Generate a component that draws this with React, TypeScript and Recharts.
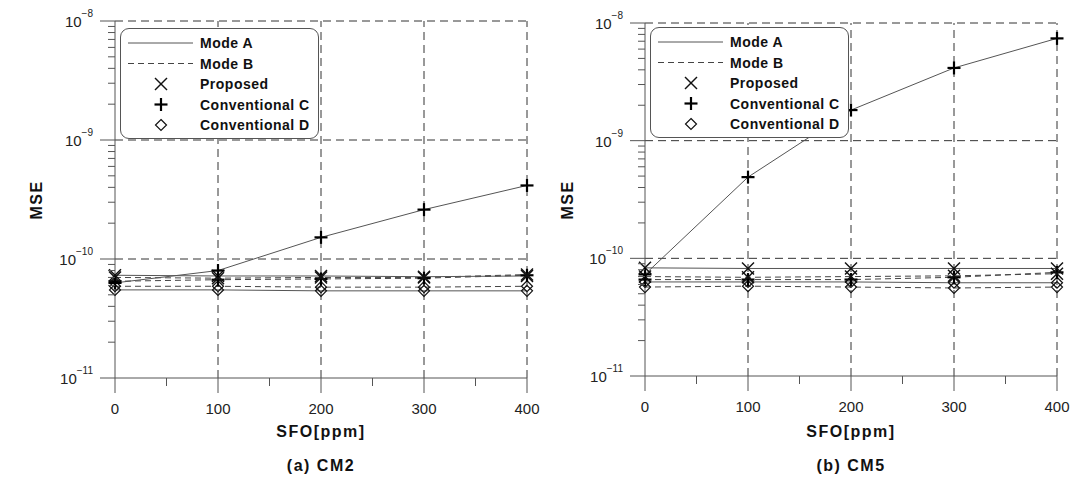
import React from 'react';
import { LineChart, Line, XAxis, YAxis, ReferenceLine } from 'recharts';

const FONT = '"Liberation Sans", Arial, sans-serif';
const AXIS = '#555';
const GRID = '#333';

// SFO offsets [ppm]
const sfo = [0, 100, 200, 300, 400];
const xTicks = [0, 50, 100, 150, 200, 250, 300, 350, 400];
const xGrid = [100, 200, 300, 400];
const yGrid = [1e-10, 1e-9, 1e-8];
const yTicks = [
  1e-11, 2e-11, 3e-11, 4e-11, 5e-11, 6e-11, 7e-11, 8e-11, 9e-11,
  1e-10, 2e-10, 3e-10, 4e-10, 5e-10, 6e-10, 7e-10, 8e-10, 9e-10,
  1e-9, 2e-9, 3e-9, 4e-9, 5e-9, 6e-9, 7e-9, 8e-9, 9e-9, 1e-8,
];

// (a) CM2
const cm2ProposedA = [7.3e-11, 7.2e-11, 7.2e-11, 7.1e-11, 7.2e-11];
const cm2ProposedB = [7.0e-11, 6.9e-11, 7.0e-11, 7.0e-11, 7.4e-11];
const cm2ConvCA = [6.3e-11, 8.0e-11, 1.52e-10, 2.6e-10, 4.15e-10];
const cm2ConvCB = [6.5e-11, 6.7e-11, 6.8e-11, 6.9e-11, 7.3e-11];
const cm2ConvDA = [5.5e-11, 5.5e-11, 5.4e-11, 5.4e-11, 5.4e-11];
const cm2ConvDB = [5.9e-11, 5.9e-11, 5.8e-11, 5.8e-11, 5.9e-11];

// (b) CM5
const cm5ProposedA = [8.3e-11, 8.2e-11, 8.2e-11, 8.2e-11, 8.2e-11];
const cm5ProposedB = [7.0e-11, 6.9e-11, 7.0e-11, 7.1e-11, 7.4e-11];
const cm5ConvCA = [7.3e-11, 4.9e-10, 1.82e-9, 4.15e-9, 7.4e-9];
const cm5ConvCB = [6.6e-11, 6.6e-11, 6.6e-11, 6.9e-11, 7.6e-11];
const cm5ConvDA = [6.3e-11, 6.3e-11, 6.3e-11, 6.2e-11, 6.2e-11];
const cm5ConvDB = [5.7e-11, 5.8e-11, 5.7e-11, 5.6e-11, 5.7e-11];

const legendLabels = ['Mode A', 'Mode B', 'Proposed', 'Conventional C', 'Conventional D'];

type MarkerKind = 'x' | 'plus' | 'diamond';

const series: { key: string; dashed: boolean; marker: MarkerKind }[] = [
  { key: 'convDA', dashed: false, marker: 'diamond' },
  { key: 'convDB', dashed: true, marker: 'diamond' },
  { key: 'convCB', dashed: true, marker: 'plus' },
  { key: 'proposedB', dashed: true, marker: 'x' },
  { key: 'proposedA', dashed: false, marker: 'x' },
  { key: 'convCA', dashed: false, marker: 'plus' },
];

const buildRows = (pA: number[], pB: number[], cA: number[], cB: number[], dA: number[], dB: number[]) =>
  sfo.map((x, i) => ({
    sfo: x,
    proposedA: pA[i],
    proposedB: pB[i],
    convCA: cA[i],
    convCB: cB[i],
    convDA: dA[i],
    convDB: dB[i],
  }));

const cm2Rows = buildRows(cm2ProposedA, cm2ProposedB, cm2ConvCA, cm2ConvCB, cm2ConvDA, cm2ConvDB);
const cm5Rows = buildRows(cm5ProposedA, cm5ProposedB, cm5ConvCA, cm5ConvCB, cm5ConvDA, cm5ConvDB);

function Marker({ kind, cx, cy }: { kind: MarkerKind; cx: number; cy: number }) {
  if (kind === 'x') {
    const h = 6;
    return (
      <g stroke="#111" strokeWidth={1.4}>
        <line x1={cx - h} y1={cy - h} x2={cx + h} y2={cy + h} />
        <line x1={cx - h} y1={cy + h} x2={cx + h} y2={cy - h} />
      </g>
    );
  }
  if (kind === 'plus') {
    const h = 6.5;
    return (
      <g stroke="#000" strokeWidth={2.2}>
        <line x1={cx - h} y1={cy} x2={cx + h} y2={cy} />
        <line x1={cx} y1={cy - h} x2={cx} y2={cy + h} />
      </g>
    );
  }
  const h = 5.5;
  return (
    <polygon
      points={`${cx},${cy - h} ${cx + h},${cy} ${cx},${cy + h} ${cx - h},${cy}`}
      fill="none"
      stroke="#111"
      strokeWidth={1.2}
    />
  );
}

const X_MARGIN = 30;
const Y_MARGIN = 22;

const XTick = (props: any) => {
  const { x, y, payload } = props;
  const v = payload.value as number;
  const major = v % 100 === 0;
  const y0 = y - X_MARGIN;
  return (
    <g>
      <line x1={x} x2={x} y1={y0} y2={y0 + (major ? 15 : 8)} stroke={AXIS} strokeWidth={1} />
      {major && (
        <text x={x} y={y} textAnchor="middle" dominantBaseline="central" fontFamily={FONT} fontSize={15} fill="#222">
          {v}
        </text>
      )}
    </g>
  );
};

const YTick = (props: any) => {
  const { x, y, payload } = props;
  const v = payload.value as number;
  const exp = Math.log10(v);
  const major = Math.abs(exp - Math.round(exp)) < 1e-6;
  const x0 = x + Y_MARGIN;
  return (
    <g>
      <line x1={x0} x2={x0 - (major ? 15 : 7)} y1={y} y2={y} stroke={AXIS} strokeWidth={1} />
      {major && (
        <text x={x} y={y} textAnchor="end" dominantBaseline="central" fontFamily={FONT} fontSize={15} fill="#222">
          <tspan>10</tspan>
          <tspan dy={-8} fontSize={10}>{`\u2212${-Math.round(exp)}`}</tspan>
        </text>
      )}
    </g>
  );
};

const CHART_H = 420;
const X_AXIS_H = 30;

function Panel({ rows, top, bottom }: { rows: any[]; top: number; bottom: number }) {
  return (
    <LineChart
      width={545}
      height={CHART_H}
      data={rows}
      margin={{ top, right: 18, bottom: CHART_H - X_AXIS_H - bottom, left: 0 }}
    >
      <XAxis
        dataKey="sfo"
        type="number"
        domain={[0, 400]}
        ticks={xTicks}
        interval={0}
        tickSize={0}
        tickMargin={X_MARGIN}
        tickLine={false}
        tick={<XTick />}
        axisLine={{ stroke: AXIS }}
        height={X_AXIS_H}
      />
      <YAxis
        type="number"
        scale="log"
        domain={[1e-11, 1e-8]}
        allowDataOverflow
        ticks={yTicks}
        interval={0}
        tickSize={0}
        tickMargin={Y_MARGIN}
        tickLine={false}
        tick={<YTick />}
        axisLine={{ stroke: AXIS }}
        width={115}
      />
      {yGrid.map((v) => (
        <ReferenceLine key={`y${v}`} y={v} stroke={GRID} strokeDasharray="8 5" />
      ))}
      {xGrid.map((v) => (
        <ReferenceLine key={`x${v}`} x={v} stroke={GRID} strokeDasharray="8 5" />
      ))}
      {series.map((s) => (
        <Line
          key={s.key}
          dataKey={s.key}
          type="linear"
          stroke={s.dashed ? '#444' : '#555'}
          strokeWidth={1}
          strokeDasharray={s.dashed ? '6 4' : undefined}
          isAnimationActive={false}
          dot={(p: any) => <Marker key={`${s.key}-${p.index}`} kind={s.marker} cx={p.cx} cy={p.cy} />}
          activeDot={false}
        />
      ))}
    </LineChart>
  );
}

function LegendBox({ left, top }: { left: number; top: number }) {
  const rowH = 20.5;
  return (
    <div
      style={{
        position: 'absolute',
        left,
        top,
        width: 197,
        height: 109,
        border: '1px solid #555',
        borderRadius: 9,
        background: '#fff',
        fontFamily: FONT,
      }}
    >
      <svg width={197} height={109} style={{ position: 'absolute', left: 0, top: 0 }}>
        {legendLabels.map((label, i) => {
          const cy = 14 + i * rowH;
          return (
            <g key={label}>
              {i === 0 && <line x1={7} x2={72} y1={cy} y2={cy} stroke="#555" strokeWidth={1} />}
              {i === 1 && <line x1={7} x2={72} y1={cy} y2={cy} stroke="#444" strokeWidth={1} strokeDasharray="6 4" />}
              {i === 2 && <Marker kind="x" cx={40} cy={cy} />}
              {i === 3 && <Marker kind="plus" cx={40} cy={cy} />}
              {i === 4 && <Marker kind="diamond" cx={40} cy={cy} />}
              <text
                x={79}
                y={cy}
                dominantBaseline="central"
                fontFamily={FONT}
                fontSize={14}
                fontWeight="bold"
                letterSpacing={0.5}
                fill="#111"
              >
                {label}
              </text>
            </g>
          );
        })}
      </svg>
    </div>
  );
}

const boldText = (text: string, x: number, y: number, rotate = false) => (
  <div
    style={{
      position: 'absolute',
      left: x,
      top: y,
      transform: `translate(-50%, -50%)${rotate ? ' rotate(-90deg)' : ''}`,
      fontFamily: FONT,
      fontSize: 16,
      fontWeight: 'bold',
      letterSpacing: 1.5,
      color: '#111',
      whiteSpace: 'nowrap',
    }}
  >
    {text}
  </div>
);

export default function App() {
  return (
    <div style={{ position: 'absolute', left: 0, top: 0, width: 1070, height: 485, background: '#fff', overflow: 'hidden' }}>
      <div style={{ position: 'absolute', left: 0, top: 0 }}>
        <Panel rows={cm2Rows} top={21} bottom={378} />
      </div>
      <div style={{ position: 'absolute', left: 530, top: 0 }}>
        <Panel rows={cm5Rows} top={23} bottom={376} />
      </div>
      <LegendBox left={120} top={28} />
      <LegendBox left={650} top={27} />
      {boldText('MSE', 37, 200, true)}
      {boldText('MSE', 568, 200, true)}
      {boldText('SFO[ppm]', 321, 432)}
      {boldText('SFO[ppm]', 851, 432)}
      {boldText('(a) CM2', 321, 466)}
      {boldText('(b) CM5', 851, 466)}
    </div>
  );
}
